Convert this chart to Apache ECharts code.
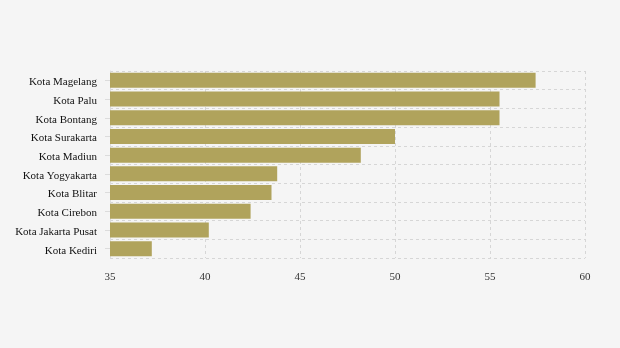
<!DOCTYPE html>
<html><head><meta charset="utf-8">
<script src="https://cdn.jsdelivr.net/npm/echarts@6/dist/echarts.min.js"></script>
<style>html,body{margin:0;padding:0;background:#f5f5f5}#c{width:620px;height:348px}</style>
</head><body><div id="c"></div>
<script>
var categories = ["Kota Magelang","Kota Palu","Kota Bontang","Kota Surakarta","Kota Madiun","Kota Yogyakarta","Kota Blitar","Kota Cirebon","Kota Jakarta Pusat","Kota Kediri"];
var values = [57.4, 55.5, 55.5, 50.0, 48.2, 43.8, 43.5, 42.4, 40.2, 37.2];
var xTicks = [35, 40, 45, 50, 55, 60];

var chart = echarts.init(document.getElementById('c'), null, {renderer:'canvas'});
chart.setOption({
  backgroundColor: '#f5f5f5',
  animation: false,
  grid: {left: 110, right: 35, top: 71, bottom: 90, containLabel: false},
  xAxis: {
    type: 'value', min: xTicks[0], max: xTicks[xTicks.length-1], interval: 5,
    axisLine: {show: false}, axisTick: {show: false},
    axisLabel: {color: '#333', fontFamily: 'Liberation Serif', fontSize: 11, margin: 14},
    splitLine: {show: true, lineStyle: {color: '#d6d6d6', type: [3, 3], width: 1}}
  },
  yAxis: {
    type: 'category', data: categories, inverse: true,
    axisLine: {show: true, lineStyle: {color: '#dcdcdc'}},
    axisTick: {show: true, alignWithLabel: true, length: 5, lineStyle: {color: '#dcdcdc'}},
    axisLabel: {color: '#111', fontFamily: 'Liberation Serif', fontSize: 11, margin: 13, verticalAlign: 'top', lineHeight: 4},
    splitLine: {show: true, lineStyle: {color: '#d6d6d6', type: [3, 3], width: 1}}
  },
  series: [{
    type: 'bar', data: values, barCategoryGap: '20%',
    itemStyle: {color: '#b0a35c'}
  }]
});
</script></body></html>
